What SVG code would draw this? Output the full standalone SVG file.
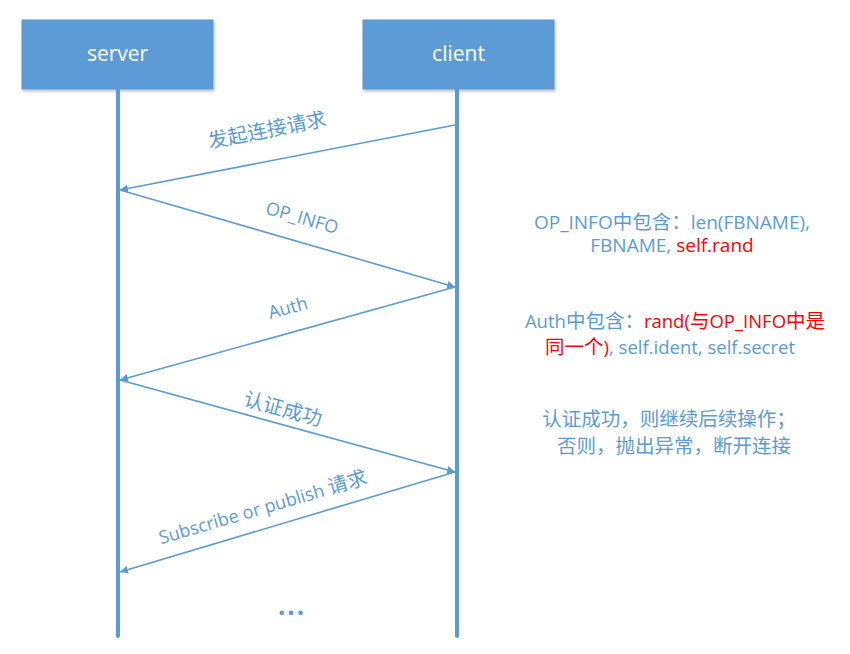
<svg xmlns="http://www.w3.org/2000/svg" width="850" height="654" viewBox="0 0 850 654">
<style>
.box{fill:#5b9bd5;stroke:#5b9bd5;}
.boxt{font-family:"Open Sans","Noto Sans CJK SC",sans-serif;font-size:21px;fill:#ffffff;text-anchor:middle;}
.life{stroke:#5b9bd5;stroke-width:4;stroke-linecap:round;}
.msg{stroke:#5b9bd5;stroke-width:1.6;fill:none;marker-end:url(#ah);}
.lbl{font-family:"Open Sans","Noto Sans CJK SC",sans-serif;font-size:18px;fill:#5b9bd5;text-anchor:middle;}
.cjk{font-size:20px;}
.note{font-family:"Open Sans","Noto Sans CJK SC",sans-serif;font-size:18.5px;fill:#5b9bd5;text-anchor:middle;}
.nc{font-size:19.5px;}
.red{fill:#ff0000;}
</style>
<defs>
<marker id="ah" viewBox="0 0 10 10" refX="10" refY="5" markerWidth="8" markerHeight="8" orient="auto" markerUnits="userSpaceOnUse">
<path d="M0,0 L10,5 L0,10 z" fill="#5b9bd5"/>
</marker>
<filter id="sh" x="-10%" y="-10%" width="130%" height="140%"><feDropShadow dx="1" dy="2" stdDeviation="1.5" flood-color="#000" flood-opacity="0.25"/></filter>
</defs>
<rect width="850" height="654" fill="#ffffff"/>
<g id="server">
<rect class="box" x="22" y="20" width="191" height="69" filter="url(#sh)"/>
<text class="boxt" x="117.5" y="61">server</text>
<line class="life" x1="118" y1="89" x2="118" y2="636"/>
</g>
<g id="client">
<rect class="box" x="363" y="20" width="191" height="69" filter="url(#sh)"/>
<text class="boxt" x="458.5" y="61">client</text>
<line class="life" x1="457" y1="89" x2="457" y2="636"/>
</g>
<g id="connectors">
<line class="msg" x1="455" y1="125" x2="120" y2="190"/>
<line class="msg" x1="120" y1="190" x2="455" y2="287"/>
<line class="msg" x1="455" y1="287" x2="120" y2="380"/>
<line class="msg" x1="120" y1="380" x2="455" y2="472"/>
<line class="msg" x1="455" y1="472" x2="120" y2="572"/>
</g>
<g id="labels">
<text class="lbl cjk" transform="translate(267,130) rotate(-11)" y="7">发起连接请求</text>
<text class="lbl" transform="translate(302,218) rotate(16)" y="6">OP_INFO</text>
<text class="lbl" transform="translate(288,308) rotate(-15.3)" y="6">Auth</text>
<text class="lbl cjk" transform="translate(283,409) rotate(15.2)" y="7">认证成功</text>
<text class="lbl" transform="translate(263,508) rotate(-16.4)" y="6">Subscribe or publish <tspan class="cjk">请求</tspan></text>
<text class="lbl" x="292" y="615" style="font-size:26px;font-weight:bold;letter-spacing:2px;">...</text>
</g>
<g id="notes">
<text class="note" x="672" y="229" style="font-size:19px;">OP_INFO<tspan class="nc">中包含：</tspan>len(FBNAME),</text>
<text class="note" x="672" y="252" style="font-size:19px;">FBNAME, <tspan class="red">self.rand</tspan></text>
<text class="note" x="675" y="328">Auth<tspan class="nc">中包含：</tspan><tspan class="red">rand(<tspan class="nc">与</tspan>OP_INFO<tspan class="nc">中是</tspan></tspan></text>
<text class="note" x="670" y="354"><tspan class="red"><tspan class="nc">同一个</tspan>)</tspan>, self.ident, self.secret</text>
<text class="note nc" x="669" y="426">认证成功，则继续后续操作；</text>
<text class="note nc" x="674" y="453">否则，抛出异常，断开连接</text>
</g>
</svg>
